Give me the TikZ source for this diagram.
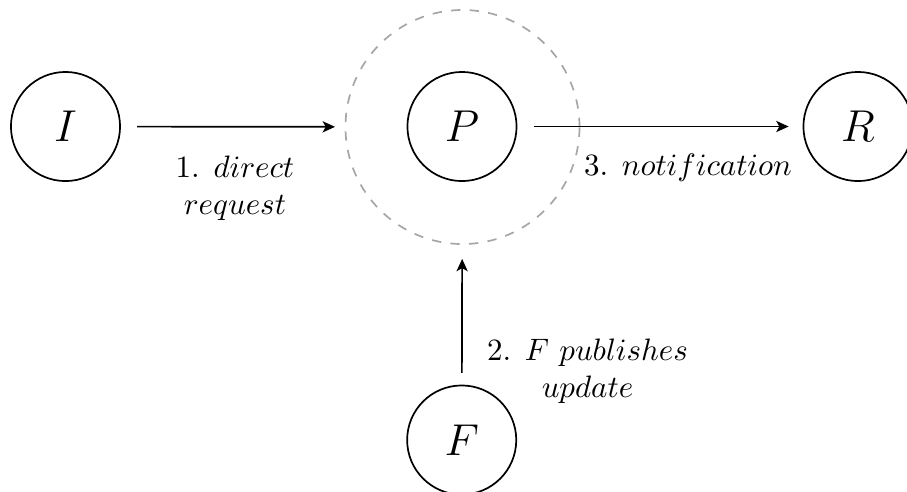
\documentclass[tikz,border=0pt]{standalone}
\usetikzlibrary{arrows.meta}
\begin{document}
\begin{tikzpicture}[x=0.3226pt, y=-0.3226pt,
  actor/.style={circle, draw, line width=0.55pt, inner sep=0pt, minimum size=35.2pt, font=\Large},
  zone/.style={circle, draw=black!35, dashed, line width=0.55pt, inner sep=0pt, minimum size=75.5pt},
  flow/.style={-{Stealth[length=4pt, width=3.6pt, inset=1pt]}, line width=0.55pt},
  lbl/.style={align=center, inner sep=0pt, font=\normalsize}]
\useasboundingbox (0,0) rectangle (907,491);
\node[zone] (Z) at (462.5,127) {};
\node[actor] (I) at (65.5,126.5) {$I$};
\node[actor] (P) at (462,126.5) {$P$};
\node[actor] (R) at (858,126.5) {$R$};
\node[actor] (F) at (461.7,440) {$F$};
\draw[flow, shorten <=5.2pt, shorten >=3.1pt] (I) -- (Z);
\draw[flow, shorten <=5.2pt, shorten >=4.5pt] (P) -- (R);
\draw[flow, shorten <=3.8pt, shorten >=4.5pt] (F) -- (Z);
\node[lbl] (l1) at (235,188) {1. $direct$\\ $request$};
\node[lbl] (l3) at (688,168) {3. $notification$};
\node[lbl] (l2) at (587.5,371) {2. $F$ $publishes$\\ $update$};
\end{tikzpicture}
\end{document}
